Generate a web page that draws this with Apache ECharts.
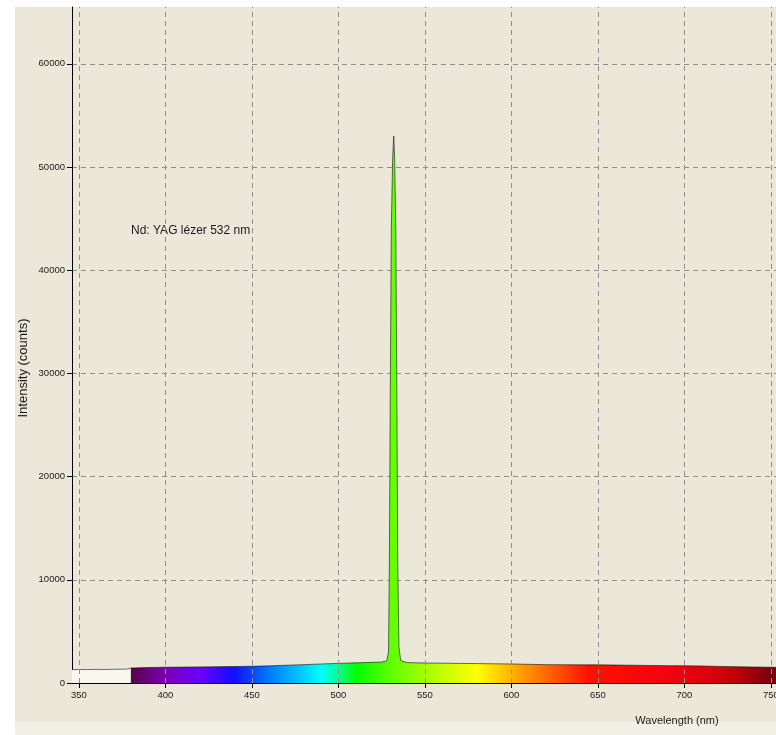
<!DOCTYPE html>
<html>
<head>
<meta charset="utf-8">
<script src="https://cdn.jsdelivr.net/npm/echarts@6/dist/echarts.min.js"></script>
<style>
  html, body { margin: 0; padding: 0; background: #ffffff; }
  .bg { position: absolute; left: 15px; top: 7px; width: 761px; height: 715px; background: #ebe8d9; }
  .bg2 { position: absolute; left: 15px; top: 722px; width: 761px; height: 13px; background: #f2f0e5; }
  #chart { position: absolute; left: 0; top: 0; width: 776px; height: 735px; }
</style>
</head>
<body>
<div class="bg"></div>
<div class="bg2"></div>
<div id="chart"></div>
<script>
(function(){
// spectrum (nm, counts)
var wavelengths = [346, 350, 355, 360, 365, 370, 375, 378, 380, 390, 400, 410, 420, 430, 440, 450,
  460, 470, 480, 490, 500, 510, 520, 525, 528, 529, 529.5, 530, 530.6, 531.4, 532, 532.5,
  533.2, 533.8, 534.3, 535, 536, 538, 540, 545, 550, 560, 570, 580, 590, 600, 610, 620,
  630, 640, 650, 660, 670, 680, 690, 700, 710, 720, 730, 740, 750, 753];
var intensity = [1290, 1310, 1300, 1320, 1310, 1330, 1340, 1350, 1450, 1500, 1530, 1540, 1560, 1580, 1600, 1620,
  1660, 1720, 1780, 1840, 1900, 1950, 2000, 2030, 2150, 3000, 12000, 28000, 44000, 51000, 53000, 51000,
  44000, 28000, 12000, 3500, 2200, 2050, 1980, 1950, 1930, 1920, 1900, 1880, 1860, 1840, 1810, 1780,
  1770, 1760, 1760, 1740, 1720, 1700, 1680, 1670, 1650, 1610, 1580, 1550, 1530, 1520];
var xTicks = [350, 400, 450, 500, 550, 600, 650, 700, 750];
// visible spectrum colours under the curve
var spectrumNm = [380, 400, 420, 440, 460, 480, 490, 500, 510, 530, 550, 570, 580, 600, 620, 645, 700, 730, 750];
var spectrumColors = ['#5a0050', '#7d00b0', '#6a00ff', '#1010ff', '#007bff', '#00d0ff', '#00ffff', '#00ff90',
  '#00ff00', '#5eff00', '#a3ff00', '#e1ff00', '#ffff00', '#ffb400', '#ff6a00', '#ff1000', '#f00010', '#c00008', '#780010'];

var xMin = 346, xMax = 753;
var first = wavelengths[0], last = wavelengths[wavelengths.length - 1];
var stops = [
  { offset: 0, color: '#f8f6ee' },
  { offset: (spectrumNm[0] - first) / (last - first) - 0.0005, color: '#f8f6ee' }
];
spectrumNm.forEach(function (nm, i) {
  stops.push({ offset: (nm - first) / (last - first), color: spectrumColors[i] });
});

var data = wavelengths.map(function (w, i) { return [w, intensity[i]]; });

var labelFont = 'Liberation Sans, Arial, sans-serif';
var myChart = echarts.init(document.getElementById('chart'));
var option = {
  animation: false,
  backgroundColor: 'transparent',
  grid: { left: 72, top: 7, right: 0, bottom: 52, outerBoundsMode: 'none', containLabel: false },
  xAxis: {
    type: 'value',
    min: xMin,
    max: xMax,
    axisLine: { lineStyle: { color: '#000', width: 1 } },
    axisTick: { customValues: xTicks, length: 5, lineStyle: { color: '#000' } },
    axisLabel: { customValues: xTicks, color: '#1a1a1a', fontSize: 9.5, fontFamily: labelFont, margin: 7 },
    splitLine: { show: false }
  },
  yAxis: {
    type: 'value',
    min: 0,
    max: 65500,
    interval: 10000,
    axisLine: { show: true, lineStyle: { color: '#000', width: 1 } },
    axisTick: { show: true, length: 5, lineStyle: { color: '#000' } },
    axisLabel: {
      color: '#1a1a1a', fontSize: 9.5, fontFamily: labelFont, margin: 7, showMaxLabel: false,
      formatter: function (v) { return String(v); }
    },
    splitLine: { show: true, showMaxLine: false, lineStyle: { color: '#8f8f8f', type: [5, 4], width: 1 } }
  },
  graphic: [
    { type: 'text', x: 131, y: 231, style: { text: 'Nd: YAG lézer 532 nm', fill: '#1a1a1a', font: '12px Liberation Sans, Arial, sans-serif', textVerticalAlign: 'middle' } },
    { type: 'text', x: 677, y: 721, style: { text: 'Wavelength (nm)', fill: '#1a1a1a', font: '11px Liberation Sans, Arial, sans-serif', textAlign: 'center', textVerticalAlign: 'middle' } },
    { type: 'text', x: 23, y: 368, rotation: Math.PI / 2, style: { text: 'Intensity (counts)', fill: '#1a1a1a', font: '13px Liberation Sans, Arial, sans-serif', textAlign: 'center', textVerticalAlign: 'middle' } }
  ],
  series: [
    {
      // vertical grid lines at the tick wavelengths
      type: 'line',
      data: [],
      z: 1,
      silent: true,
      markLine: {
        silent: true,
        symbol: 'none',
        label: { show: false },
        lineStyle: { color: '#8f8f8f', type: [5, 4], width: 1 },
        data: xTicks.map(function (v) { return { xAxis: v }; })
      }
    },
    {
      name: 'Nd: YAG',
      type: 'line',
      data: data,
      z: 3,
      showSymbol: false,
      sampling: null,
      lineStyle: { color: '#111', width: 1, opacity: 0.6 },
      areaStyle: {
        opacity: 1,
        color: new echarts.graphic.LinearGradient(0, 0, 1, 0, stops)
      }
    }
  ]
};
myChart.setOption(option);
window.addEventListener('resize', function () { myChart.resize(); });
})();
</script>
</body>
</html>
